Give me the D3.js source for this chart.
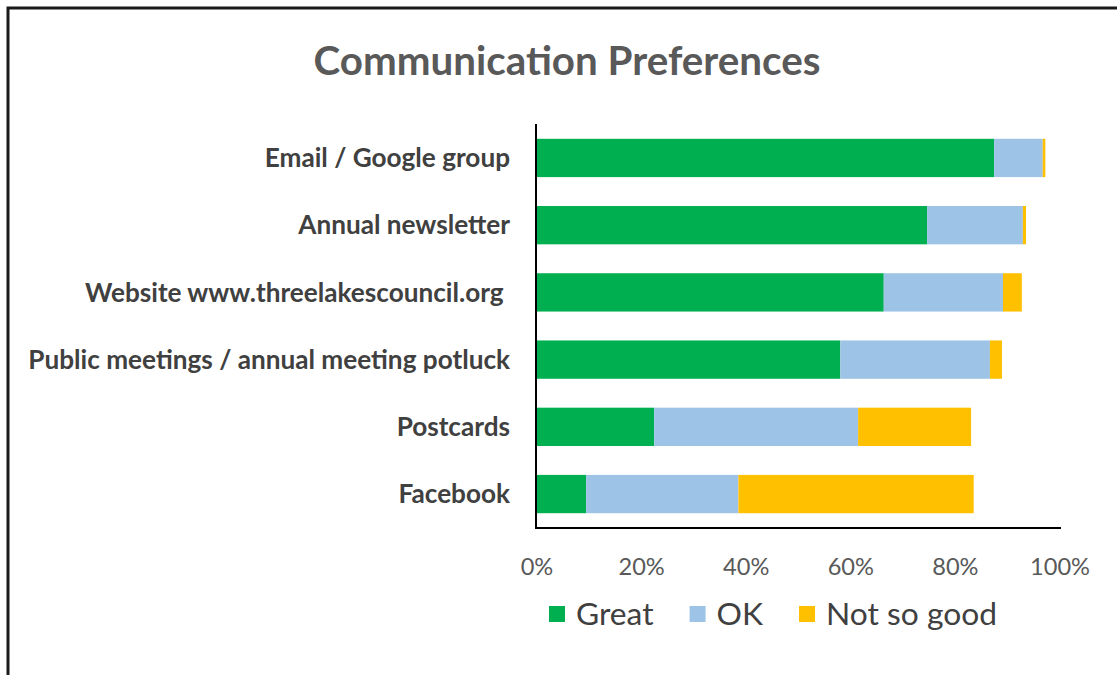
<!DOCTYPE html>
<html lang="en">
<head>
<meta charset="UTF-8">
<title>Communication Preferences</title>
<script src="https://d3js.org/d3.v7.min.js"></script>
<style>
    body { margin: 0; background: #fff; }
    text { font-family: Lato, "Open Sans", sans-serif; }
</style>
</head>
<body>
<div id="chart"></div>
<script>
// values, in percent
var categories = ["Email / Google group", "Annual newsletter", "Website www.threelakescouncil.org ",
    "Public meetings / annual meeting potluck", "Postcards", "Facebook"];
var great     = [87.4, 74.6, 66.3, 58.0, 22.4, 9.4];
var ok        = [9.3, 18.3, 22.8, 28.6, 39.0, 29.1];
var notSoGood = [0.5, 0.6, 3.6, 2.3, 21.6, 45.0];
var seriesNames = ["Great", "OK", "Not so good"];
var ticks = [0, 20, 40, 60, 80, 100];

var colors = ["#00B050", "#9DC3E6", "#FFC000"];

var width = 1117, height = 675;

var svg = d3.select("#chart").append("svg")
    .attr("width", width)
    .attr("height", height);

// frame (only the top and left edges are visible in the picture)
svg.append("rect")
    .attr("x", 8).attr("y", 8)
    .attr("width", 1200).attr("height", 800)
    .attr("fill", "none")
    .attr("stroke", "#1a1a1a")
    .attr("stroke-width", 3);

// make text fit a width measured in the picture
function fitWidth(sel, target) {
    sel.attr("font-size", 100);
    var w = sel.node().getComputedTextLength();
    sel.attr("font-size", 100 * target / w);
}

var table = categories.map(function(c, i) {
    return { cat: c, "Great": great[i], "OK": ok[i], "Not so good": notSoGood[i] };
});

var x = d3.scaleLinear().domain([0, 100]).range([537, 1060]);
var y = d3.scaleBand().domain(categories).range([124, 528])
    .paddingInner(0.43).paddingOuter(0.22);

var stack = d3.stack().keys(seriesNames);
var layers = stack(table);

// bars
svg.selectAll("g.layer")
    .data(layers)
    .enter().append("g")
    .attr("class", "layer")
    .attr("fill", function(d, i) { return colors[i]; })
    .selectAll("rect")
    .data(function(d) { return d; })
    .enter().append("rect")
    .attr("x", function(d) { return x(d[0]); })
    .attr("width", function(d) { return x(d[1]) - x(d[0]); })
    .attr("y", function(d) { return y(d.data.cat); })
    .attr("height", y.bandwidth());

// axis lines
svg.append("line")
    .attr("x1", 536).attr("x2", 536)
    .attr("y1", 124).attr("y2", 529)
    .attr("stroke", "#000").attr("stroke-width", 2);
svg.append("line")
    .attr("x1", 535).attr("x2", 1061)
    .attr("y1", 528).attr("y2", 528)
    .attr("stroke", "#000").attr("stroke-width", 2);

// title
var title = svg.append("text")
    .attr("x", 567).attr("y", 75)
    .attr("text-anchor", "middle")
    .attr("font-weight", "bold")
    .attr("fill", "#595959")
    .text("Communication Preferences");
fitWidth(title, 507);

// category labels
var labels = svg.selectAll("text.cat")
    .data(categories)
    .enter().append("text")
    .attr("class", "cat")
    .attr("x", 510)
    .attr("y", function(d) { return y(d) + y.bandwidth() / 2; })
    .attr("dy", "0.35em")
    .attr("text-anchor", "end")
    .attr("font-weight", "bold")
    .attr("fill", "#404040")
    .style("white-space", "pre")
    .text(function(d) { return d; });
fitWidth(labels.filter(function(d, i) { return i == 3; }), 482);
labels.attr("font-size", labels.filter(function(d, i) { return i == 3; }).attr("font-size"));

// tick labels
var tickText = svg.selectAll("text.tick")
    .data(ticks)
    .enter().append("text")
    .attr("class", "tick")
    .attr("x", function(d) { return x(d); })
    .attr("y", 567)
    .attr("dy", "0.35em")
    .attr("text-anchor", "middle")
    .attr("fill", "#595959")
    .text(function(d) { return d + "%"; });
fitWidth(tickText.filter(function(d) { return d == 100; }), 60);
tickText.attr("font-size", tickText.filter(function(d) { return d == 100; }).attr("font-size"));

// legend
var legend = svg.append("g").attr("class", "legend");
var lx = 549;
var legendSize = 0;
seriesNames.forEach(function(name, i) {
    var g = legend.append("g");
    g.append("rect")
        .attr("x", lx).attr("y", 606)
        .attr("width", 16).attr("height", 16)
        .attr("fill", colors[i]);
    var t = g.append("text")
        .attr("x", lx + 27).attr("y", 614)
        .attr("dy", "0.35em")
        .attr("fill", "#404040")
        .text(name);
    if (i == 0) {
        // size the legend font from the last entry's width
        var probe = svg.append("text").text("Not so good");
        fitWidth(probe, 171);
        legendSize = probe.attr("font-size");
        probe.remove();
    }
    t.attr("font-size", legendSize);
    lx = lx + 27 + t.node().getComputedTextLength() + 36;
});
</script>
</body>
</html>
